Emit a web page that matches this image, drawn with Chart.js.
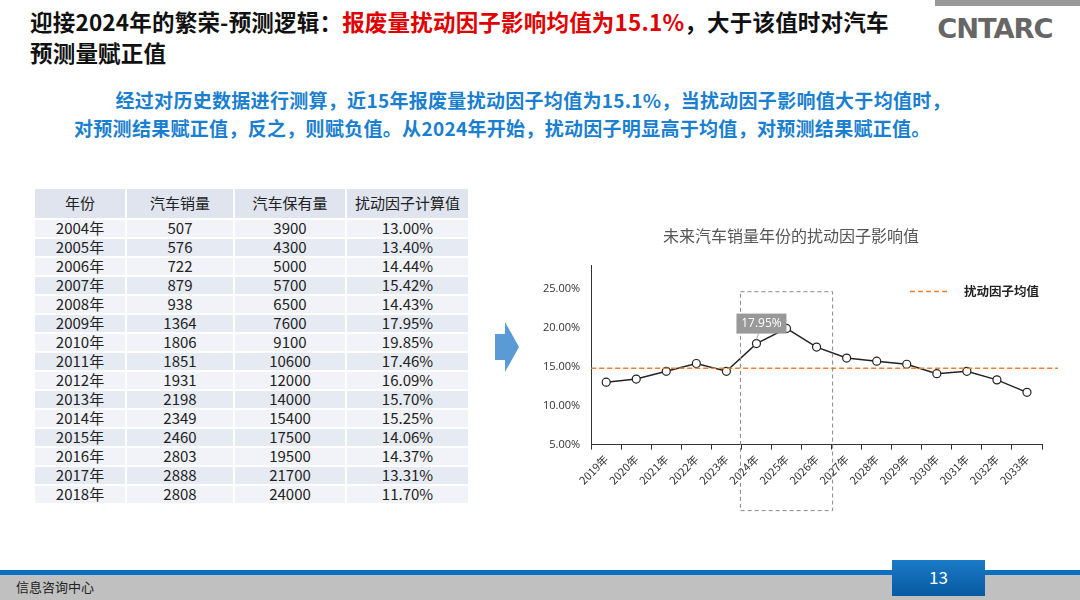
<!DOCTYPE html>
<html><head><meta charset="utf-8">
<script src="https://cdn.jsdelivr.net/npm/chart.js@4"></script>
<style>
body{margin:0;width:1080px;height:600px;position:relative;background:#fff;font-family:"Noto Sans CJK SC","Noto Sans",sans-serif;overflow:hidden}
.title{position:absolute;left:30px;top:6px;font-size:22.5px;font-weight:bold;line-height:31px;color:#111;letter-spacing:0.2px}
.title .red{color:#e00000}
.logo{position:absolute;left:940px;top:14px;font-family:"DejaVu Sans";font-weight:bold;font-size:26px;color:#666;letter-spacing:-1px;transform:scaleX(1.05)}
.logobar{position:absolute;left:935px;top:0;width:145px;height:6px;background:#999}
.intro{position:absolute;left:74px;top:86px;width:1000px;font-size:19px;font-weight:bold;color:#1a7fd0;line-height:28px;letter-spacing:0.3px}
table{position:absolute;left:33px;top:187px;border-collapse:collapse;font-size:15px;color:#222}
td{border:2px solid #fff;text-align:center;height:16px;padding:0 0 1px 0;line-height:16px}
tr:nth-child(odd) td{background:#e6eaf2} tr:nth-child(even) td{background:#f1f3f8}
tr.h td{height:28px;background:#dfe4ee;font-size:15px}
.arrow{position:absolute;left:495px;top:322px;width:0;height:0}
.bar1{position:absolute;left:0;top:570px;width:1080px;height:5px;background:#0a70c0}
.bar2{position:absolute;left:0;top:575px;width:1080px;height:25px;background:#c0c0c0}
.foot{position:absolute;left:16px;top:577px;font-size:13px;color:#222}
.page{position:absolute;left:892px;top:560px;width:93px;height:36px;background:linear-gradient(#1a7ac8,#075aa0);color:#fff;font-size:17px;text-align:center;line-height:34px}
#wrap{position:absolute;left:540px;top:224px;width:520px;height:290px}
</style></head><body>
<div class="title">迎接2024年的繁荣-预测逻辑：<span class="red">报废量扰动因子影响均值为15.1%</span>，大于该值时对汽车<br>预测量赋正值</div>
<div class="logobar"></div>
<div class="logo">CNTARC</div>
<div class="intro">&nbsp;&nbsp;&nbsp;&nbsp;&nbsp;&nbsp;&nbsp;&nbsp;&nbsp;经过对历史数据进行测算，近15年报废量扰动因子均值为15.1%，当扰动因子影响值大于均值时，<br>对预测结果赋正值，反之，则赋负值。从2024年开始，扰动因子明显高于均值，对预测结果赋正值。</div>
<table id="tbl"></table>
<svg class="arrow" style="width:24px;height:50px" viewBox="0 0 24 50"><polygon points="0,12 10,12 10,0 24,25 10,50 10,38 0,38" fill="#5b9bd5"/></svg>
<div id="wrap"><canvas id="c"></canvas></div>
<div class="bar1"></div><div class="bar2"></div>
<div class="foot">信息咨询中心</div>
<div class="page">13</div>
<script>
// ── TABLE DATA ───────────────────────────────────────────
const tableHead  = ['年份', '汽车销量', '汽车保有量', '扰动因子计算值'];
const tableYears = ['2004年','2005年','2006年','2007年','2008年','2009年','2010年','2011年','2012年','2013年','2014年','2015年','2016年','2017年','2018年'];
const tableSales = [507, 576, 722, 879, 938, 1364, 1806, 1851, 1931, 2198, 2349, 2460, 2803, 2888, 2808];
const tableStock = [3900, 4300, 5000, 5700, 6500, 7600, 9100, 10600, 12000, 14000, 15400, 17500, 19500, 21700, 24000];
const tableFactor = ['13.00%','13.40%','14.44%','15.42%','14.43%','17.95%','19.85%','17.46%','16.09%','15.70%','15.25%','14.06%','14.37%','13.31%','11.70%'];

// ── CHART DATA ───────────────────────────────────────────
const years   = ['2019年','2020年','2021年','2022年','2023年','2024年','2025年','2026年','2027年','2028年','2029年','2030年','2031年','2032年','2033年'];
const factor  = [13.0, 13.4, 14.4, 15.4, 14.4, 17.95, 19.9, 17.5, 16.1, 15.7, 15.3, 14.1, 14.4, 13.3, 11.7];
const meanVal = 14.8;
const yTicks  = [5, 10, 15, 20, 25];
const boxFrom = '2024年', boxTo = '2026年';

const widths = [94, 110, 114, 125];
let html = '<tr class="h">' + tableHead.map((h, i) => `<td style="width:${widths[i]-4}px">${h}</td>`).join('') + '</tr>';
tableYears.forEach((y, i) => {
  html += `<tr><td>${y}</td><td>${tableSales[i]}</td><td>${tableStock[i]}</td><td>${tableFactor[i]}</td></tr>`;
});
document.getElementById('tbl').innerHTML = html;

// ── PLUGINS ──────────────────────────────────────────────
const extras = {
  id: 'extras',
  afterDatasetsDraw(chart) {
    const { ctx, scales: { x, y } } = chart;
    const half = (x.getPixelForValue(1) - x.getPixelForValue(0)) / 2;
    ctx.save();
    // mean line
    ctx.strokeStyle = '#ed7d31'; ctx.lineWidth = 1.5; ctx.setLineDash([5, 3]);
    const my = y.getPixelForValue(meanVal);
    ctx.beginPath(); ctx.moveTo(x.left, my); ctx.lineTo(x.right + 16, my); ctx.stroke();
    // legend
    const ly0 = y.getPixelForValue(25) + 3;
    ctx.beginPath(); ctx.moveTo(x.right - 132, ly0); ctx.lineTo(x.right - 92, ly0); ctx.stroke();
    ctx.setLineDash([]);
    ctx.fillStyle = '#222'; ctx.font = 'bold 12.5px "Noto Sans CJK SC"'; ctx.textBaseline = 'middle';
    ctx.fillText('扰动因子均值', x.right - 78, ly0);
    // dashed highlight box
    const i0 = years.indexOf(boxFrom), i1 = years.indexOf(boxTo);
    const bx0 = x.getPixelForValue(i0) - half - 1, bx1 = x.getPixelForValue(i1) + half + 1;
    const by0 = y.getPixelForValue(24.6), by1 = y.bottom + 66;
    ctx.strokeStyle = '#888'; ctx.lineWidth = 1; ctx.setLineDash([4, 3]);
    ctx.strokeRect(bx0, by0, bx1 - bx0, by1 - by0);
    ctx.setLineDash([]);
    // label box
    const lx = x.getPixelForValue(i0), ly = y.getPixelForValue(factor[i0]);
    ctx.fillStyle = '#999'; ctx.fillRect(lx - 20, ly - 30, 50, 20);
    ctx.strokeStyle = '#aaa'; ctx.beginPath(); ctx.moveTo(lx + 2, ly - 10); ctx.lineTo(lx, ly - 4); ctx.stroke();
    ctx.fillStyle = '#fff'; ctx.font = '12px "Open Sans"'; ctx.textAlign = 'center';
    ctx.fillText(factor[i0].toFixed(2) + '%', lx + 5, ly - 20);
    ctx.restore();
  }
};

// ── CHART ────────────────────────────────────────────────
new Chart(document.getElementById('c'), {
  type: 'line',
  data: {
    labels: years,
    datasets: [{
      data: factor,
      borderColor: '#222', borderWidth: 1.5,
      pointBackgroundColor: '#fff', pointBorderColor: '#222', pointBorderWidth: 1.2, pointRadius: 4,
      tension: 0
    }]
  },
  options: {
    responsive: true, maintainAspectRatio: false, animation: false,
    layout: { padding: { left: 0, right: 18, top: 0, bottom: 24 } },
    plugins: {
      legend: { display: false }, tooltip: { enabled: false },
      title: { display: true, text: '未来汽车销量年份的扰动因子影响值', color: '#555',
               font: { size: 16, family: 'Noto Sans CJK SC', weight: 'normal' }, padding: { top: 2, bottom: 20 } }
    },
    scales: {
      x: {
        offset: true,
        grid: { display: true, drawOnChartArea: false, color: '#333', tickLength: 5, offset: true },
        border: { color: '#333' },
        ticks: { color: '#333', maxRotation: 45, minRotation: 45, font: { size: 11, family: 'Noto Sans CJK SC' } }
      },
      y: {
        min: 5, max: 28,
        afterBuildTicks: ax => { ax.ticks = yTicks.map(v => ({ value: v })); },
        grid: { display: false },
        border: { color: '#333' },
        ticks: { color: '#333', font: { size: 11, family: 'Open Sans' }, callback: v => v.toFixed(2) + '%' }
      }
    }
  },
  plugins: [extras]
});
</script>
</body></html>
